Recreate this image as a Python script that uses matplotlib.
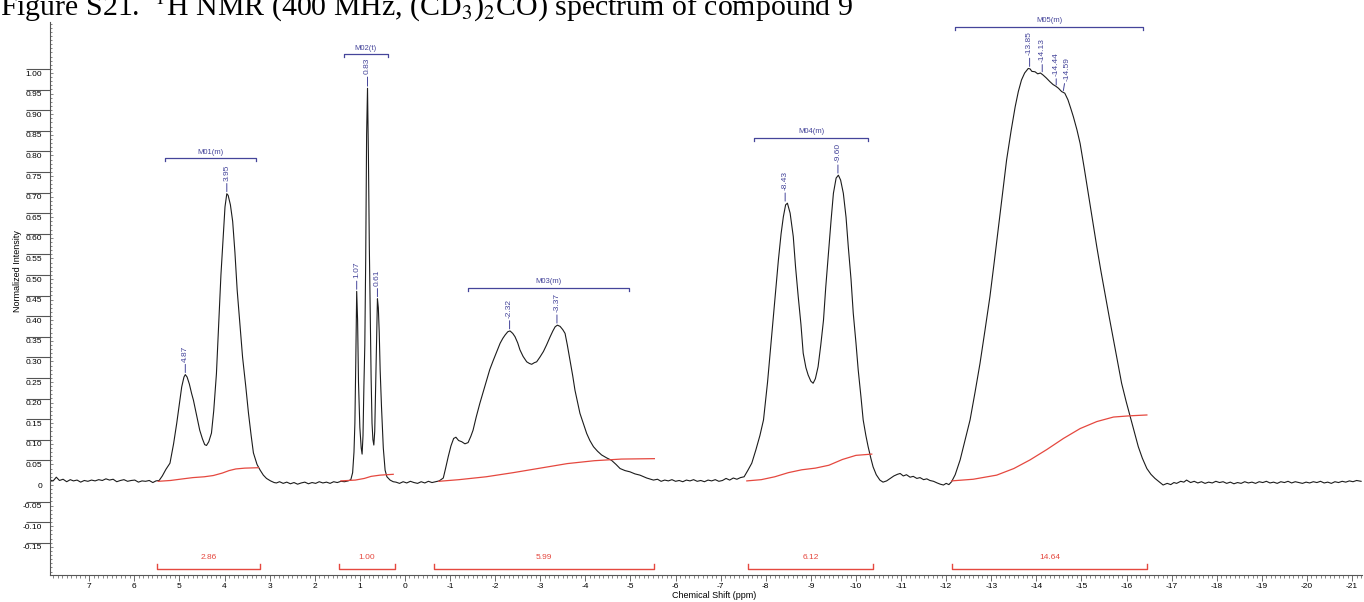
import matplotlib
matplotlib.use("Agg")
import matplotlib.pyplot as plt
from matplotlib import transforms
from matplotlib.ticker import FixedLocator, MultipleLocator

plt.rcParams["font.family"] = ["Liberation Sans", "DejaVu Sans"]
plt.rcParams["mathtext.fontset"] = "stix"

# ---- spectrum (ppm, normalized intensity) ----
base_a_ppm = [7.87, 7.80, 7.73, 7.66, 7.58, 7.50, 7.42, 7.35, 7.27, 7.19, 7.11, 7.03, 6.95, 6.87, 6.79,
              6.71, 6.63, 6.55, 6.47, 6.39, 6.31, 6.23, 6.15, 6.07, 5.99, 5.91, 5.83, 5.75, 5.67, 5.59,
              5.52, 5.45]
base_a_int = [0.012, 0.010, 0.019, 0.011, 0.014, 0.008, 0.013, 0.010, 0.012, 0.007, 0.011, 0.009, 0.012,
              0.010, 0.013, 0.011, 0.015, 0.012, 0.014, 0.008, 0.011, 0.013, 0.009, 0.011, 0.012, 0.007,
              0.010, 0.009, 0.011, 0.006, 0.010, 0.011]

m01_ppm = [5.38, 5.30, 5.21, 5.13, 5.06, 4.99, 4.95, 4.90, 4.87, 4.83, 4.78, 4.73, 4.69, 4.62, 4.55,
           4.49, 4.44, 4.40, 4.35, 4.29, 4.24, 4.18, 4.13, 4.08, 4.03, 3.99, 3.95, 3.92, 3.87, 3.82,
           3.77, 3.72, 3.66, 3.60, 3.53, 3.47, 3.41, 3.36, 3.28, 3.21, 3.14, 3.07, 2.98, 2.90, 2.85]
m01_int = [0.022, 0.038, 0.053, 0.100, 0.150, 0.205, 0.238, 0.262, 0.268, 0.262, 0.245, 0.222, 0.206,
           0.170, 0.133, 0.112, 0.098, 0.096, 0.105, 0.126, 0.180, 0.270, 0.390, 0.510, 0.600, 0.675,
           0.707, 0.703, 0.680, 0.640, 0.565, 0.473, 0.390, 0.310, 0.240, 0.175, 0.120, 0.078, 0.050,
           0.036, 0.024, 0.016, 0.010, 0.006, 0.005]

base_b_ppm = [2.78, 2.70, 2.62, 2.54, 2.46, 2.38, 2.30, 2.22, 2.14, 2.06, 1.98, 1.90, 1.82, 1.74, 1.66,
              1.58, 1.50, 1.42, 1.34, 1.26, 1.20]
base_b_int = [0.008, 0.004, 0.007, 0.003, 0.006, 0.002, 0.005, 0.007, 0.003, 0.006, 0.004, 0.008, 0.005,
              0.007, 0.004, 0.008, 0.006, 0.009, 0.008, 0.010, 0.013]

m02_ppm = [1.16, 1.13, 1.11, 1.09, 1.07, 1.05, 1.03, 1.00, 0.97, 0.95, 0.93, 0.91, 0.89, 0.87, 0.85,
           0.83, 0.81, 0.79, 0.77, 0.75, 0.73, 0.71, 0.69, 0.67, 0.65, 0.63, 0.61, 0.59, 0.57, 0.55,
           0.52, 0.48, 0.44, 0.40, 0.33, 0.26]
m02_int = [0.030, 0.080, 0.150, 0.300, 0.470, 0.400, 0.250, 0.140, 0.090, 0.075, 0.120, 0.240, 0.340,
           0.550, 0.850, 0.963, 0.800, 0.580, 0.420, 0.260, 0.150, 0.110, 0.097, 0.130, 0.240, 0.350,
           0.452, 0.430, 0.370, 0.280, 0.190, 0.090, 0.036, 0.020, 0.012, 0.008]

base_c_ppm = [0.20, 0.12, 0.04, -0.04, -0.12, -0.20, -0.28, -0.36, -0.44, -0.52, -0.60, -0.68, -0.76]
base_c_int = [0.007, 0.004, 0.008, 0.005, 0.009, 0.006, 0.004, 0.008, 0.005, 0.009, 0.006, 0.008, 0.010]

m03_ppm = [-0.85, -0.90, -0.96, -1.02, -1.08, -1.13, -1.19, -1.26, -1.33, -1.40, -1.46, -1.51, -1.58,
           -1.66, -1.74, -1.81, -1.88, -1.96, -2.04, -2.11, -2.17, -2.22, -2.28, -2.33, -2.39, -2.44,
           -2.50, -2.55, -2.62, -2.70, -2.76, -2.81, -2.87, -2.92, -2.99, -3.07, -3.14, -3.22, -3.28,
           -3.33, -3.38, -3.44, -3.50, -3.55, -3.60, -3.66, -3.72, -3.77, -3.83, -3.88, -3.96, -4.03,
           -4.10, -4.18, -4.27, -4.36, -4.47, -4.58, -4.68, -4.77, -4.88, -4.99, -5.10, -5.21, -5.36,
           -5.51]
m03_int = [0.017, 0.040, 0.069, 0.095, 0.113, 0.116, 0.108, 0.105, 0.100, 0.103, 0.118, 0.133, 0.165,
           0.198, 0.228, 0.255, 0.280, 0.303, 0.325, 0.344, 0.356, 0.364, 0.372, 0.374, 0.368, 0.360,
           0.345, 0.328, 0.312, 0.299, 0.295, 0.293, 0.297, 0.299, 0.310, 0.324, 0.340, 0.360, 0.374,
           0.384, 0.388, 0.385, 0.377, 0.368, 0.340, 0.303, 0.265, 0.230, 0.200, 0.174, 0.148, 0.125,
           0.108, 0.093, 0.082, 0.073, 0.066, 0.060, 0.050, 0.040, 0.035, 0.032, 0.027, 0.024, 0.017,
           0.012]

base_d_ppm = [-5.60, -5.68, -5.76, -5.84, -5.92, -6.00, -6.08, -6.16, -6.24, -6.32, -6.40, -6.48, -6.56,
              -6.64, -6.72, -6.80, -6.88, -6.96, -7.04, -7.12, -7.20, -7.28, -7.36, -7.44, -7.52]
base_d_int = [0.014, 0.009, 0.012, 0.010, 0.013, 0.009, 0.011, 0.008, 0.012, 0.010, 0.013, 0.009, 0.011,
              0.008, 0.012, 0.010, 0.013, 0.009, 0.011, 0.016, 0.012, 0.017, 0.014, 0.018, 0.020]

m04_ppm = [-7.60, -7.69, -7.78, -7.87, -7.95, -8.04, -8.13, -8.21, -8.28, -8.34, -8.39, -8.44, -8.48,
           -8.54, -8.61, -8.66, -8.72, -8.78, -8.83, -8.89, -8.94, -9.00, -9.05, -9.10, -9.16, -9.22,
           -9.28, -9.33, -9.39, -9.45, -9.50, -9.56, -9.61, -9.66, -9.72, -9.78, -9.83, -9.89, -9.94,
           -10.00, -10.05, -10.11, -10.16, -10.22, -10.27, -10.33, -10.38, -10.45, -10.53]
m04_int = [0.035, 0.053, 0.085, 0.120, 0.158, 0.250, 0.360, 0.460, 0.546, 0.610, 0.651, 0.680, 0.684,
           0.660, 0.603, 0.530, 0.457, 0.390, 0.320, 0.285, 0.267, 0.252, 0.247, 0.258, 0.287, 0.340,
           0.400, 0.480, 0.563, 0.645, 0.708, 0.745, 0.752, 0.740, 0.708, 0.650, 0.578, 0.500, 0.417,
           0.345, 0.279, 0.215, 0.158, 0.120, 0.093, 0.065, 0.044, 0.025, 0.012]

base_e_ppm = [-10.60, -10.68, -10.76, -10.84, -10.92, -10.98, -11.05, -11.12, -11.20, -11.27, -11.35,
              -11.42, -11.50, -11.57, -11.64, -11.72, -11.80, -11.87, -11.94, -12.00, -12.06, -12.12]
base_e_int = [0.007, 0.010, 0.016, 0.022, 0.026, 0.028, 0.022, 0.025, 0.019, 0.021, 0.016, 0.018, 0.013,
              0.015, 0.011, 0.009, 0.005, 0.002, 0.000, 0.004, 0.001, 0.008]

m05_ppm = [-12.20, -12.31, -12.42, -12.53, -12.64, -12.75, -12.86, -12.97, -13.07, -13.16, -13.25,
           -13.34, -13.44, -13.53, -13.60, -13.67, -13.74, -13.82, -13.86, -13.90, -13.97, -14.03,
           -14.09, -14.15, -14.22, -14.30, -14.37, -14.43, -14.49, -14.56, -14.63, -14.70, -14.76,
           -14.82, -14.90, -14.97, -15.06, -15.15, -15.25, -15.34, -15.43, -15.52, -15.62, -15.71,
           -15.80, -15.89, -15.99, -16.08, -16.17, -16.26, -16.35, -16.45, -16.54, -16.63, -16.72,
           -16.81]
m05_int = [0.025, 0.061, 0.110, 0.158, 0.225, 0.295, 0.375, 0.457, 0.545, 0.627, 0.710, 0.789, 0.860,
           0.918, 0.955, 0.983, 1.000, 1.011, 1.010, 1.004, 1.003, 0.998, 1.000, 0.995, 0.988, 0.979,
           0.972, 0.968, 0.963, 0.955, 0.951, 0.935, 0.915, 0.894, 0.862, 0.829, 0.770, 0.708, 0.640,
           0.578, 0.520, 0.465, 0.405, 0.352, 0.300, 0.247, 0.203, 0.166, 0.128, 0.093, 0.065, 0.040,
           0.026, 0.016, 0.008, 0.000]

base_f_ppm = [-16.90, -16.98, -17.05, -17.11, -17.20, -17.27, -17.33, -17.42, -17.50, -17.58, -17.66,
              -17.74, -17.82, -17.90, -17.98, -18.06, -18.14, -18.22, -18.30, -18.38, -18.46, -18.54,
              -18.62, -18.70, -18.78, -18.86, -18.94, -19.02, -19.10, -19.18, -19.26, -19.34, -19.42,
              -19.50, -19.58, -19.66, -19.74, -19.82, -19.90, -19.98, -20.06, -20.14, -20.22, -20.30,
              -20.38, -20.46, -20.54, -20.62, -20.70, -20.78, -20.86, -20.94, -21.02, -21.10, -21.20]
base_f_int = [0.004, 0.001, 0.006, 0.004, 0.009, 0.007, 0.012, 0.006, 0.009, 0.005, 0.008, 0.004, 0.007,
              0.005, 0.009, 0.006, 0.008, 0.004, 0.007, 0.003, 0.006, 0.004, 0.008, 0.005, 0.007, 0.004,
              0.008, 0.006, 0.009, 0.005, 0.007, 0.004, 0.008, 0.006, 0.009, 0.005, 0.008, 0.006, 0.004,
              0.007, 0.005, 0.008, 0.006, 0.009, 0.005, 0.007, 0.004, 0.008, 0.006, 0.009, 0.007, 0.010,
              0.008, 0.011, 0.009]

# ---- integral curves (red) ----
int1_ppm = [5.47, 5.20, 4.92, 4.70, 4.45, 4.25, 4.05, 3.90, 3.75, 3.55, 3.25]
int1_val = [0.009, 0.011, 0.015, 0.018, 0.020, 0.023, 0.029, 0.035, 0.039, 0.041, 0.042]
int2_ppm = [1.42, 1.10, 0.90, 0.75, 0.55, 0.26]
int2_val = [0.010, 0.012, 0.016, 0.021, 0.024, 0.026]
int3_ppm = [-0.75, -1.2, -1.8, -2.4, -3.0, -3.6, -4.2, -4.8, -5.53]
int3_val = [0.009, 0.013, 0.020, 0.030, 0.041, 0.052, 0.059, 0.063, 0.064]
int4_ppm = [-7.58, -7.9, -8.2, -8.5, -8.8, -9.1, -9.4, -9.7, -10.0, -10.35]
int4_val = [0.010, 0.013, 0.020, 0.030, 0.037, 0.041, 0.048, 0.062, 0.072, 0.075]
int5_ppm = [-12.12, -12.6, -13.12, -13.5, -13.86, -14.23, -14.6, -14.97, -15.34, -15.71, -16.08, -16.45]
int5_val = [0.010, 0.014, 0.024, 0.040, 0.061, 0.086, 0.113, 0.137, 0.154, 0.165, 0.168, 0.170]

# integration ranges and values
integ_start = [5.50, 1.46, -0.64, -7.60, -12.13]
integ_end = [3.21, 0.22, -5.53, -10.38, -16.45]
integ_text = ["2.86", "1.00", "5.99", "6.12", "14.64"]

# multiplets
mult_start = [5.31, 1.35, -1.40, -7.74, -12.20]
mult_end = [3.31, 0.38, -4.97, -10.27, -16.36]
mult_level = [0.793, 1.045, 0.479, 0.843, 1.112]
mult_name = ["M01(m)", "M02(t)", "M03(m)", "M04(m)", "M05(m)"]

# peak picks
peak_ppm = [4.87, 3.95, 1.07, 0.83, 0.61, -2.32, -3.37, -8.43, -9.60, -13.85, -14.13, -14.44, -14.59]
peak_top = [0.268, 0.707, 0.470, 0.963, 0.452, 0.374, 0.388, 0.684, 0.752, 1.011, 0.998, 0.966, 0.952]
peak_text = ["4.87", "3.95", "1.07", "0.83", "0.61", "-2.32", "-3.37", "-8.43", "-9.60",
             "-13.85", "-14.13", "-14.44", "-14.59"]

ytick_vals = [1.00, 0.95, 0.90, 0.85, 0.80, 0.75, 0.70, 0.65, 0.60, 0.55, 0.50, 0.45, 0.40, 0.35,
              0.30, 0.25, 0.20, 0.15, 0.10, 0.05, 0, -0.05, -0.10, -0.15]
ytick_text = ["1.00", "0.95", "0.90", "0.85", "0.80", "0.75", "0.70", "0.65", "0.60", "0.55", "0.50",
              "0.45", "0.40", "0.35", "0.30", "0.25", "0.20", "0.15", "0.10", "0.05", "0", "-0.05",
              "-0.10", "-0.15"]
xtick_vals = list(range(7, -22, -1))

BLUE = "#45459a"
RED = "#e5483f"
BLACK = "#1c1c1c"

spec_ppm = (base_a_ppm + m01_ppm + base_b_ppm + m02_ppm + base_c_ppm + m03_ppm + base_d_ppm
            + m04_ppm + base_e_ppm + m05_ppm + base_f_ppm)
spec_int = (base_a_int + m01_int + base_b_int + m02_int + base_c_int + m03_int + base_d_int
            + m04_int + base_e_int + m05_int + base_f_int)

fig = plt.figure(figsize=(13.64, 6.02), dpi=100)
ax = fig.add_axes([50 / 1364, 27 / 602, 1312 / 1364, 553 / 602])

ax.plot(spec_ppm, spec_int, color=BLACK, lw=0.8)
for xs, ys in [(int1_ppm, int1_val), (int2_ppm, int2_val), (int3_ppm, int3_val),
               (int4_ppm, int4_val), (int5_ppm, int5_val)]:
    ax.plot(xs, ys, color=RED, lw=0.9)

ax.set_xlim(7.87, -21.22)
ax.set_ylim(-0.2184, 1.1238)

# integral brackets at the bottom
lvl = -0.2039
for s, e, t in zip(integ_start, integ_end, integ_text):
    ax.plot([s, s, e, e], [lvl + 0.012, lvl, lvl, lvl + 0.012], color=RED, lw=1.0, clip_on=False)
    ax.annotate(t, xy=((s + e) / 2, lvl), xytext=(0, 12), textcoords="offset pixels",
                ha="center", va="center", fontsize=6, color=RED)

# multiplet brackets
for s, e, y, name in zip(mult_start, mult_end, mult_level, mult_name):
    ax.plot([s, s, e, e], [y - 0.007, y, y, y - 0.007], color=BLUE, lw=0.9, clip_on=False)
    ax.annotate(name, xy=((s + e) / 2, y), xytext=(0, 6), textcoords="offset pixels",
                ha="center", va="center", fontsize=5.5, color=BLUE, annotation_clip=False)

# peak labels
lead_dx = [0, 0, 0, 0, 0, 0, 0, 0, 0, 0, 0, 0, 4]
lead_dy = [13, 13, 13, 14, 13, 13, 13, 13, 13, 13, 12, 11, 12]
for p, h, t, dx, dy in zip(peak_ppm, peak_top, peak_text, lead_dx, lead_dy):
    ax.annotate(t, xy=(p, h), xytext=(dx, dy), textcoords="offset pixels",
                rotation=90, ha="center", va="bottom", fontsize=6, color=BLUE,
                arrowprops=dict(arrowstyle="-", color=BLUE, lw=0.7, shrinkA=0, shrinkB=1.5),
                annotation_clip=False)

# axes styling
for side in ["top", "right"]:
    ax.spines[side].set_visible(False)
for side in ["left", "bottom"]:
    ax.spines[side].set_color("#555555")
    ax.spines[side].set_linewidth(0.8)

ax.xaxis.set_major_locator(FixedLocator(xtick_vals))
ax.set_xticklabels([str(v) for v in xtick_vals])
ax.xaxis.set_minor_locator(MultipleLocator(0.1))
ax.tick_params(axis="x", which="major", direction="out", length=4.5, width=0.6,
               labelsize=6, pad=1.5, color="#555555")
ax.tick_params(axis="x", which="minor", direction="out", length=2.2, width=0.5, color="#555555")

ax.yaxis.set_major_locator(FixedLocator(ytick_vals))
ax.set_yticklabels(ytick_text)
ax.yaxis.set_minor_locator(MultipleLocator(0.01))
ax.tick_params(axis="y", which="major", direction="in", length=2.5, width=0.5,
               labelsize=6, pad=5.8, color="#555555")
ax.tick_params(axis="y", which="minor", direction="in", length=1.6, width=0.5, color="#555555")

# long marks to the left of the y axis, just above each value label
mark_tr = (transforms.blended_transform_factory(ax.transAxes, ax.transData)
           + transforms.ScaledTranslation(0, 4 / 100, fig.dpi_scale_trans))
ax.hlines([v for v in ytick_vals if v != 0], -24 / 1312, 0, colors="#555555", lw=0.8,
          transform=mark_tr, clip_on=False)

ax.set_xlabel("Chemical Shift (ppm)", fontsize=6.5)
ax.xaxis.set_label_coords(0.506, -0.029)
ax.set_ylabel("Normalized Intensity", fontsize=6.5)
ax.yaxis.set_label_coords(-0.0217, 0.55)

# the figure caption sits partly above the top edge, as in the source page
fig.text(0.0, 1 - 15 / 602,
         r"Figure S21.  $^{1}$H NMR (400 MHz, (CD$_{3}$)$_{2}$CO) spectrum of compound 9",
         family=["Liberation Serif", "DejaVu Serif"], fontsize=21.5, va="baseline", ha="left")

fig.savefig("out.png", dpi=100)
